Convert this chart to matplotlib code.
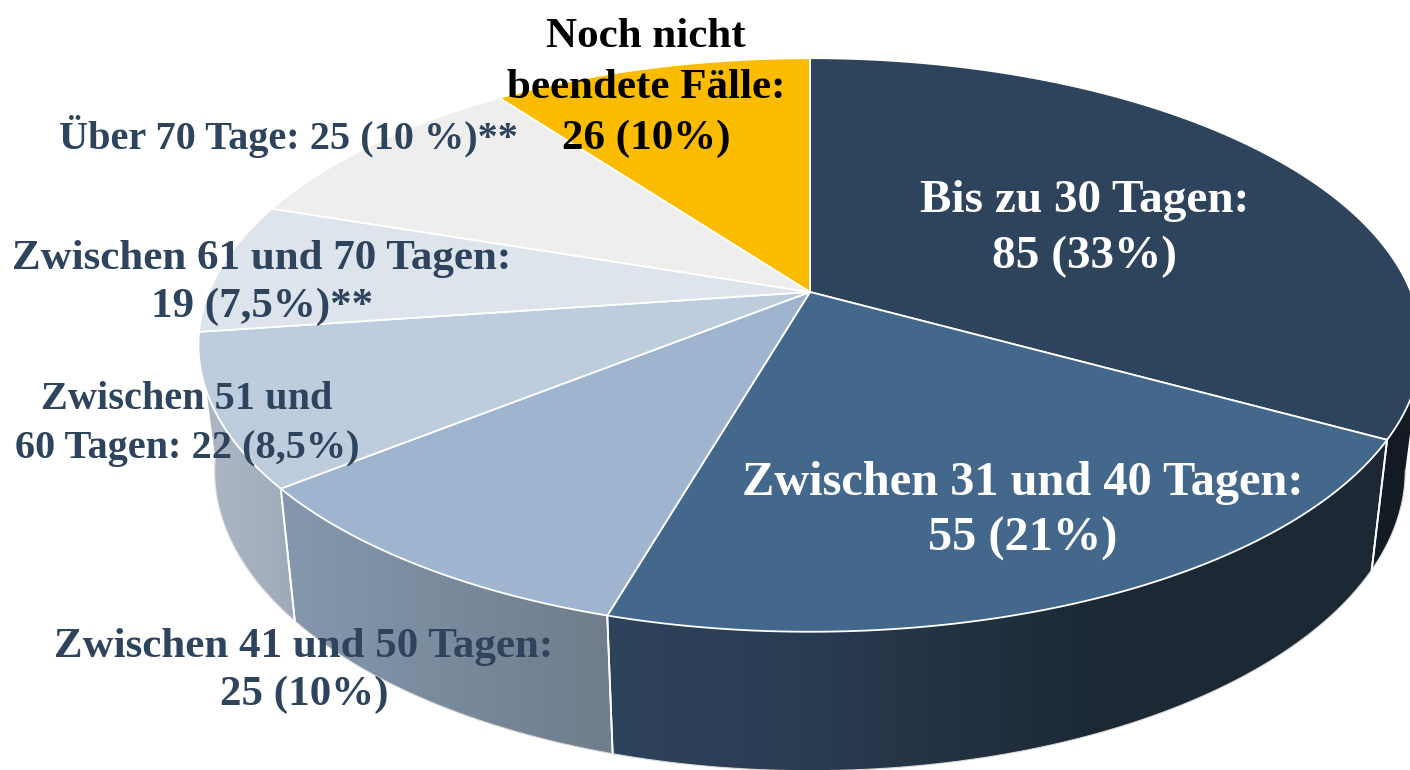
import numpy as np
import matplotlib
matplotlib.use("Agg")
import matplotlib.pyplot as plt
from matplotlib.patches import Polygon
from matplotlib.colors import to_rgb

values = [85, 55, 25, 22, 19, 25, 26]
top_colors = ["#2E435C", "#44678C", "#9FB5CF", "#BDCDDE", "#DDE4EC", "#EEEEEE", "#FBBC00"]
labels = [
    "Bis zu 30 Tagen:\n85 (33%)",
    "Zwischen 31 und 40 Tagen:\n55 (21%)",
    "Zwischen 41 und 50 Tagen:\n25 (10%)",
    "Zwischen 51 und\n60 Tagen: 22 (8,5%)",
    "Zwischen 61 und 70 Tagen:\n19 (7,5%)**",
    "Über 70 Tage: 25 (10 %)**",
    "Noch nicht\nbeendete Fälle:\n26 (10%)",
]
label_colors = ["white", "white", "#2E435C", "#2E435C", "#2E435C", "#2E435C", "black"]
label_pos = [(1085, 229), (1023, 511), (304, 671), (187, 424), (262, 283), (288, 136), (646, 88)]
label_sizes = [34, 34.8, 31, 29, 31, 29, 31]
label_spacing = [1.4, 1.37, 1.35, 1.41, 1.35, 1.2, 1.42]
# side walls: (x stops, colours) of the horizontal shading per visible slice
side_shades = {
    0: ([1370, 1400], ["#141D25", "#121B23"]),
    1: ([610, 800, 1100, 1390], ["#2E435C", "#2A3C52", "#1C2935", "#1C2935"]),
    2: ([282, 610], ["#8598AE", "#6F7D8C"]),
    3: ([205, 295], ["#ADB7C4", "#9FAAB9"]),
}

# perspective view of the disc
K = 0.1847
CX, A_TOP, B_TOP, CY_TOP = 810, 601, 277, 292
A_BOT, B_BOT, CY_BOT = 585, 290, 415
TANGENT = np.degrees(np.arcsin(K))


def rim(theta_deg, bottom=False):
    t = np.radians(theta_deg)
    X, Y = np.sin(t), np.cos(t)
    den = 1 + K * Y
    if bottom:
        return CX + A_BOT * X / den, CY_BOT - B_BOT * Y / den
    return CX + A_TOP * X / den, CY_TOP - B_TOP * Y / den


fig = plt.figure(figsize=(14.1, 7.7), dpi=100)
ax = fig.add_axes([0, 0, 1, 1])
ax.set_xlim(0, 1410)
ax.set_ylim(770, 0)
ax.axis("off")

edges = 360 * np.cumsum([0] + values) / sum(values)
lo_vis, hi_vis = 90 + TANGENT, 270 - TANGENT

for i, (xs, cols) in side_shades.items():
    a, b = max(edges[i], lo_vis), min(edges[i + 1], hi_vis + 2.3)
    th = np.linspace(a, b, 80)
    xt, yt = rim(th)
    xb, yb = rim(th, True)
    pts = np.column_stack([np.r_[xt, xb[::-1]], np.r_[yt, yb[::-1]]])
    poly = Polygon(pts, closed=True, fc="none", ec="none")
    ax.add_patch(poly)
    grid = np.arange(0, 1411)
    rgb = np.array([to_rgb(c) for c in cols])
    img = np.stack([np.interp(grid, xs, rgb[:, c]) for c in range(3)], axis=-1)[None, :, :]
    im = ax.imshow(img, extent=(0, 1410, 770, 0), aspect="auto", zorder=1, interpolation="bilinear")
    im.set_clip_path(poly)
    ax.plot(xb, yb, color="#D9D9D9", lw=0.8, zorder=1.5)
    for e in (edges[i], edges[i + 1]):
        if lo_vis < e < hi_vis:
            p, q = rim(e), rim(e, True)
            ax.plot([p[0], q[0]], [p[1], q[1]], color="white", lw=1.3, zorder=2)

ax.set_xlim(0, 1410)
ax.set_ylim(770, 0)

for i, c in enumerate(top_colors):
    th = np.linspace(edges[i], edges[i + 1], 150)
    x, y = rim(th)
    pts = np.column_stack([np.r_[CX, x], np.r_[CY_TOP, y]])
    ax.add_patch(Polygon(pts, closed=True, fc=c, ec="white", lw=1.3, joinstyle="round", zorder=3))

for s, (x, y), c, fs, ls in zip(labels, label_pos, label_colors, label_sizes, label_spacing):
    ax.text(x, y, s, color=c, ha="center", va="center", family="Liberation Serif",
            fontweight="bold", fontsize=fs, linespacing=ls, zorder=5)

fig.savefig("out.png", dpi=100)
